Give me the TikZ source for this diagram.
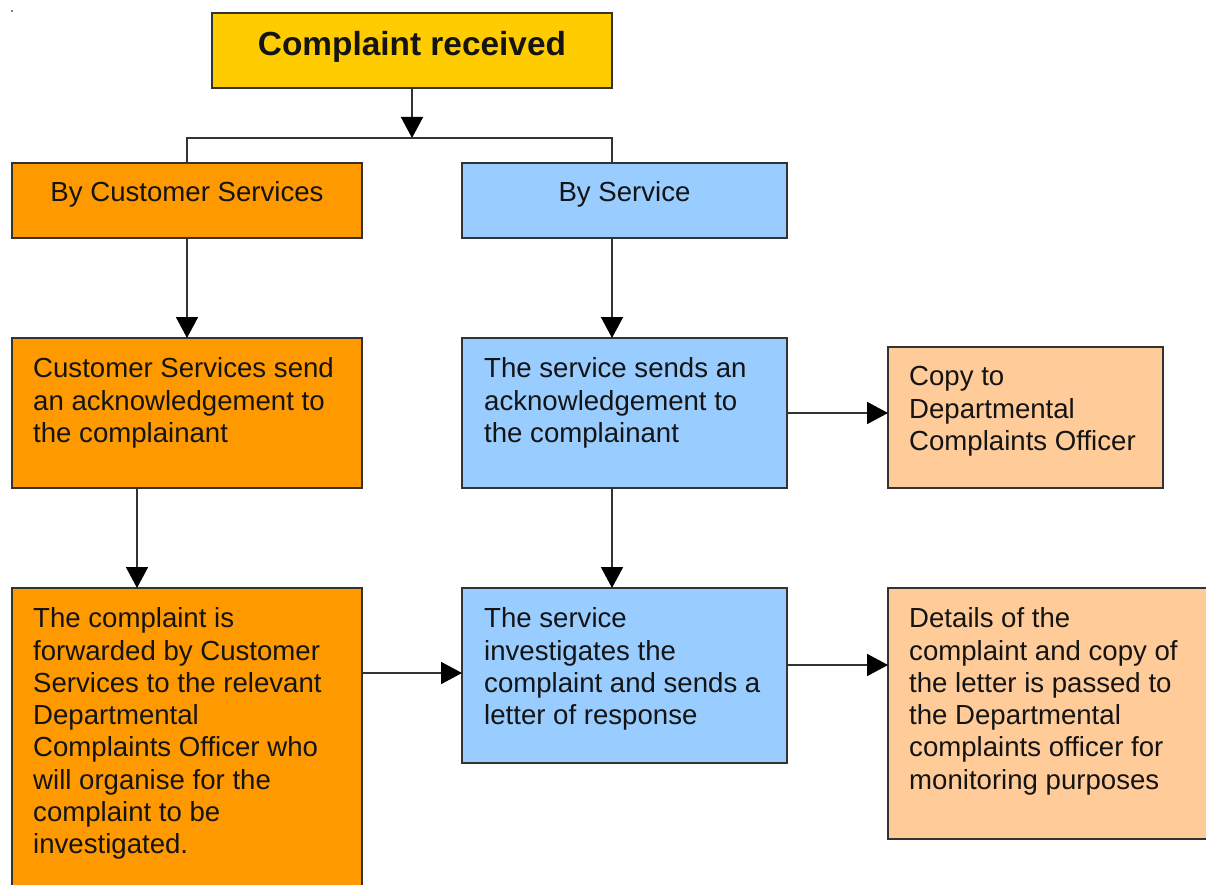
\documentclass[tikz,border=0pt]{standalone}
\usepackage{fontspec}
\setmainfont{Liberation Sans}
\usetikzlibrary{arrows.meta}
\definecolor{recvfill}{HTML}{FFCC00}
\definecolor{csfill}{HTML}{FF9900}
\definecolor{svcfill}{HTML}{99CCFF}
\definecolor{dcofill}{HTML}{FFCC99}
\definecolor{edge}{HTML}{333333}
\definecolor{wire}{HTML}{333333}
\definecolor{ink}{HTML}{141414}
\begin{document}
\begin{tikzpicture}[x=1pt,y=-1pt,
  box/.style={draw=edge, line width=1.8pt, inner sep=0pt, outer sep=0pt},
  body/.style={anchor=north west, align=left, inner sep=0pt, text=ink,
    font=\fontsize{27.6pt}{32.3pt}\selectfont},
  head/.style={anchor=base, inner sep=0pt, text=ink,
    font=\fontsize{27.6pt}{32.3pt}\selectfont},
  wireline/.style={draw=wire, line width=1.8pt},
  arr/.style={wireline, -{Triangle[length=21pt,width=22pt,color=black]}}]
\useasboundingbox (0,0) rectangle (1206,885);
\clip (0,0) rectangle (1206,885);
\fill[gray] (11,10) rectangle (13,12);

% boxes
\node[box, fill=recvfill, minimum width=400pt, minimum height=75pt] (recv) at (412,50.5) {};
\node[box, fill=csfill,  minimum width=350pt, minimum height=75pt]  (bycs)  at (187,200.5) {};
\node[box, fill=svcfill, minimum width=325pt, minimum height=75pt]  (bysvc) at (624.5,200.5) {};
\node[box, fill=csfill,  minimum width=350pt, minimum height=150pt] (csack) at (187,413) {};
\node[box, fill=svcfill, minimum width=325pt, minimum height=150pt] (svack) at (624.5,413) {};
\node[box, fill=dcofill, minimum width=275pt, minimum height=141pt] (copy)  at (1025.5,417.5) {};
\node[box, fill=csfill,  minimum width=350pt, minimum height=312pt] (fwd)   at (187,744) {};
\node[box, fill=svcfill, minimum width=325pt, minimum height=175pt] (inv)   at (624.5,675.5) {};
\node[box, fill=dcofill, minimum width=332pt, minimum height=251pt] (det)   at (1054,713.5) {};

% texts
\node[anchor=base, inner sep=0pt, text=ink, font=\fontsize{33.4pt}{38pt}\selectfont\bfseries]
  (recvtxt) at ([yshift=-42.6pt]recv.north) {Complaint received};
\node[head] (bycstxt) at ([yshift=-38.5pt]bycs.north) {By Customer Services};
\node[head] (bysvctxt) at ([yshift=-39pt]bysvc.north) {By Service};
\node[body] (csacktxt) at ([xshift=21pt,yshift=-19.5pt]csack.north west)
  {Customer Services send\\an acknowledgement to\\the complainant};
\node[body] (svacktxt) at ([xshift=22pt,yshift=-19.5pt]svack.north west)
  {The service sends an\\acknowledgement to\\the complainant};
\node[body] (copytxt) at ([xshift=21pt,yshift=-19.5pt]copy.north west)
  {Copy to\\Departmental\\Complaints Officer};
\node[body] (fwdtxt) at ([xshift=21pt,yshift=-19.5pt]fwd.north west)
  {The complaint is\\forwarded by Customer\\Services to the relevant\\Departmental\\Complaints Officer who\\will organise for the\\complaint to be\\investigated.};
\node[body] (invtxt) at ([xshift=22pt,yshift=-19.5pt]inv.north west)
  {The service\\investigates the\\complaint and sends a\\letter of response};
\node[body] (dettxt) at ([xshift=21pt,yshift=-19.5pt]det.north west)
  {Details of the\\complaint and copy of\\the letter is passed to\\the Departmental\\complaints officer for\\monitoring purposes};

% connectors
\coordinate (split) at (412,138);
\draw[arr] (recv.south) -- (split);
\draw[wireline] (bycs.north) |- (split) -| ([xshift=150pt]bysvc.north west);
\draw[arr] (bycs.south) -- (csack.north);
\draw[arr] ([xshift=150pt]bysvc.south west) -- ([xshift=150pt]svack.north west);
\draw[arr] (svack.east) -- (svack.east -| copy.west);
\draw[arr] ([xshift=125pt]csack.south west) -- ([xshift=125pt]fwd.north west);
\draw[arr] ([xshift=150pt]svack.south west) -- ([xshift=150pt]inv.north west);
\draw[arr] ([yshift=2.5pt]inv.west -| fwd.east) -- ([yshift=2.5pt]inv.west);
\draw[arr] ([yshift=10.5pt]inv.east) -- ([yshift=10.5pt]inv.east -| det.west);
\end{tikzpicture}
\end{document}
